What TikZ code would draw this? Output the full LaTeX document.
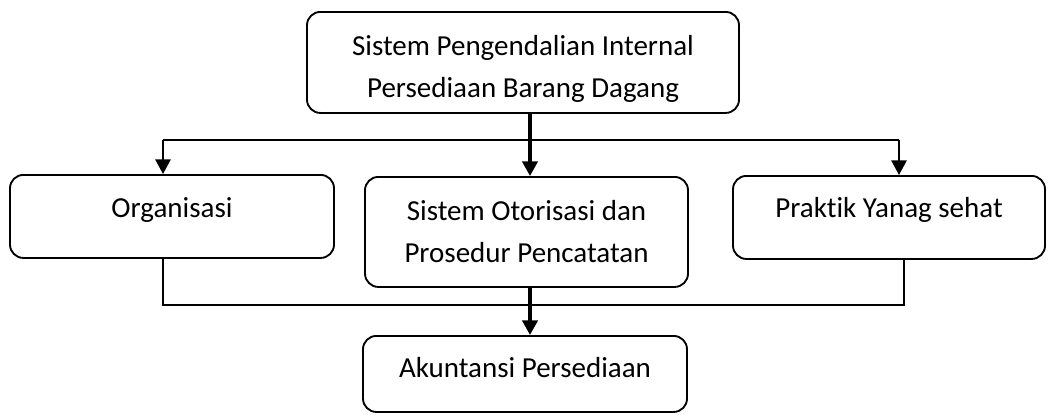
\documentclass[tikz,border=0pt]{standalone}
\usepackage{fontspec}
\setmainfont{Carlito}[Ligatures=NoCommon]
\usetikzlibrary{arrows.meta}
\begin{document}
\begin{tikzpicture}[x=0.75pt,y=-0.75pt,
  box/.style={draw, line width=1.4pt, rounded corners=10pt, inner xsep=0pt, inner ysep=0pt,
    anchor=north, align=center, font=\fontsize{21.75}{31.5}\selectfont},
  conn/.style={line width=1.4pt},
  thickconn/.style={line width=2.4pt},
  arr/.style={-{Triangle[width=11.5pt,length=11pt]}}
]
\useasboundingbox (0,0) rectangle (1049,414);

\node[box, minimum width=324pt, text height=64.5pt, text depth=11.25pt] (top) at (523,11)
  {Sistem Pengendalian Internal\\Persediaan Barang Dagang};
\node[box, minimum width=243pt, text height=32.25pt, text depth=30pt] (org) at (172,174) {Organisasi};
\node[box, minimum width=242.25pt, text height=64.5pt, text depth=18pt] (mid) at (526.5,176)
  {Sistem Otorisasi dan\\Prosedur Pencatatan};
\node[box, minimum width=234pt, text height=31.5pt, text depth=30.75pt] (prak) at (889,175) {Praktik Yanag sehat};
\node[box, minimum width=243pt, text height=31.5pt, text depth=25.5pt] (akun) at (525,335) {Akuntansi Persediaan};

\coordinate (jn) at (530,140);
\coordinate (jl) at (163,140);
\coordinate (jr) at (899,140);
\coordinate (bl) at (163,305);
\coordinate (bm) at (530,305);
\coordinate (br) at (904,305);

\draw[thickconn] (jn |- top.south) -- (jn);
\draw[conn] (jl) -- (jr);
\draw[conn,arr] (jl) -- (jl |- org.north);
\draw[thickconn,arr] (jn) -- (jn |- mid.north);
\draw[conn,arr] (jr) -- (jr |- prak.north);

\draw[conn] (bl |- org.south) -- (bl) -- (br) -- (br |- prak.south);
\draw[thickconn,arr] (bm |- mid.south) -- (bm |- akun.north);
\end{tikzpicture}
\end{document}
